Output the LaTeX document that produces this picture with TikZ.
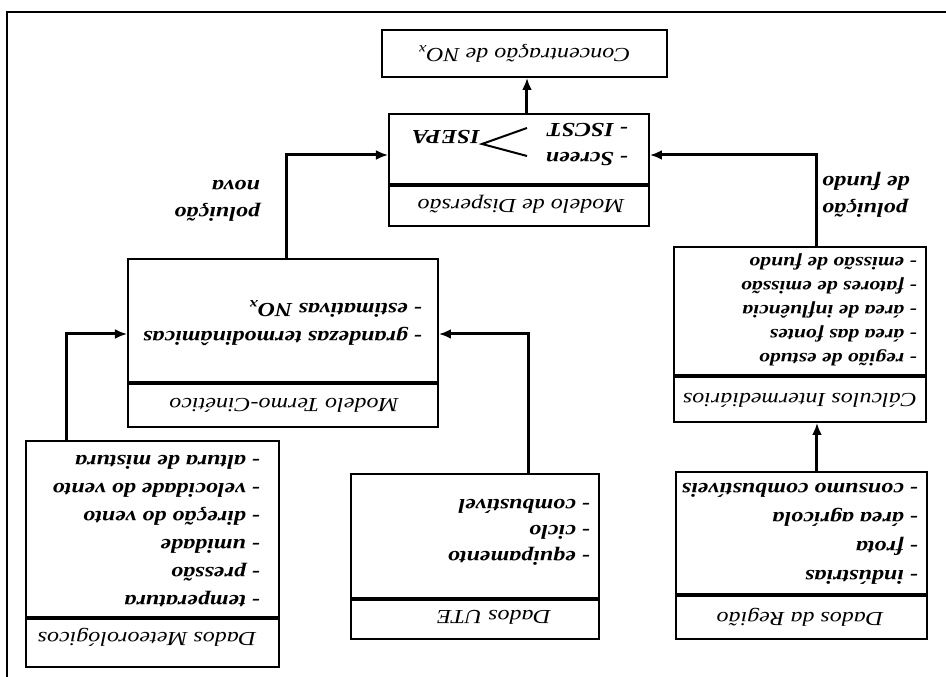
\documentclass[tikz,border=0pt]{standalone}
\usepackage{fontspec}
\setmainfont{Liberation Serif}[FakeStretch=1.2]
\usetikzlibrary{arrows.meta}

\begin{document}
\begin{tikzpicture}[x=1pt,y=-1pt,rotate=180,transform shape,
	box/.style={draw,line width=2pt,anchor=north west,inner sep=0pt},
	bar/.style={line width=3.5pt},
	flow/.style={line width=3pt,-{Latex[length=12pt,width=10pt]}},
	title/.style={inner sep=0pt,font=\itshape\fontsize{20}{24}\selectfont},
	items/.style={align=left,anchor=north west,inner sep=0pt,font=\bfseries\itshape\fontsize{20}{#1}\selectfont},
	items/.default=28,
	note/.style={inner sep=0pt,font=\bfseries\itshape\fontsize{20}{27}\selectfont}]
		\useasboundingbox (0,0) rectangle (946,677);
		\draw[line width=2.5pt] (0,665) -- (939,665) -- (939,0);

		% dados de entrada
		\node[box,minimum width=253,minimum height=226] (meteo) at (666,9) {};
		\draw[bar] (meteo.west |- 0,59) -- (meteo.east |- 0,59);
		\node[title] (meteoT) at (799,40) {Dados Meteorológicos};
		\node[items] (meteoI) at (686,70) {- temperatura\\- pressão\\- umidade\\- direção do vento\\- velocidade do vento\\- altura de mistura};

		\node[box,minimum width=248,minimum height=165] (ute) at (346,37) {};
		\draw[bar] (ute.west |- 0,78) -- (ute.east |- 0,78);
		\node[title] (uteT) at (452,60) {Dados UTE};
		\node[items=26] (uteI) at (356,111) {- equipamento\\- ciclo\\- combustível};

		\node[box,minimum width=251,minimum height=167] (regiao) at (18,37) {};
		\draw[bar] (regiao.west |- 0,82) -- (regiao.east |- 0,82);
		\node[title] (regiaoT) at (146,60) {Dados da Região};
		\node[items=29] (regiaoI) at (28,92) {- indústrias\\- frota\\- área agrícola\\- consumo combustíveis};

		% modelos
		\node[box,minimum width=310,minimum height=168] (termo) at (507,249) {};
		\draw[bar] (termo.west |- 0,294) -- (termo.east |- 0,294);
		\node[title] (termoT) at (662,272) {Modelo Termo-Cinético};
		\node[items] (termoI) at (524,331) {- grandezas termodinâmicas\\- estimativas NO\textsubscript{x}};

		\node[box,minimum width=252,minimum height=175] (calc) at (19,254) {};
		\draw[bar] (calc.west |- 0,301) -- (calc.east |- 0,301);
		\node[title] (calcT) at (146,277) {Cálculos Intermediários};
		\node[items=24,font=\bfseries\itshape\fontsize{18}{24}\selectfont] (calcI) at (29,311) {- região de estudo\\- área das fontes\\- área de influência\\- fatores de emissão\\- emissão de fundo};

		\node[box,minimum width=260,minimum height=112] (disp) at (296,450) {};
		\draw[bar] (disp.west |- 0,492) -- (disp.east |- 0,492);
		\node[title] (dispT) at (425,473) {Modelo de Dispersão};
		\node[items=29] (dispI) at (318,511) {- Screen\\- ISCST};
		\node[note,anchor=west] (isepa) at (466,540) {ISEPA};
		\coordinate (scr) at (419,521);
		\coordinate (isc) at (419,549);
		\coordinate (tip) at (464,533);
		\draw[line width=2pt] (scr) -- (tip) -- (isc);

		\node[box,anchor=center,minimum width=285,minimum height=47,font=\itshape\fontsize{20}{24}\selectfont] (conc) at (421.5,623.5) {Concentração de NO\textsubscript{x}};

		% ligacoes
		\draw[flow] (meteo.south -| 879,0) |- (termo.east |- 0,343);
		\draw[flow] (ute.south -| 417,0) |- (termo.west |- 0,343);
		\draw[flow] (regiao.south -| 129,0) -- (calc.north -| 129,0);
		\draw[flow] (termo.south -| 659,0) |- (disp.east |- 0,522);
		\draw[flow] (calc.south -| 129,0) |- (disp.west |- 0,522);
		\draw[flow] (disp.south -| 419,0) -- (conc.north -| 419,0);
		\node[note,align=left,anchor=north west] (nova) at (686,455) {poluição\\nova};
		\node[note,align=right,anchor=north east] (fundo) at (124,459) {poluição\\de fundo};
\end{tikzpicture}
\end{document}
